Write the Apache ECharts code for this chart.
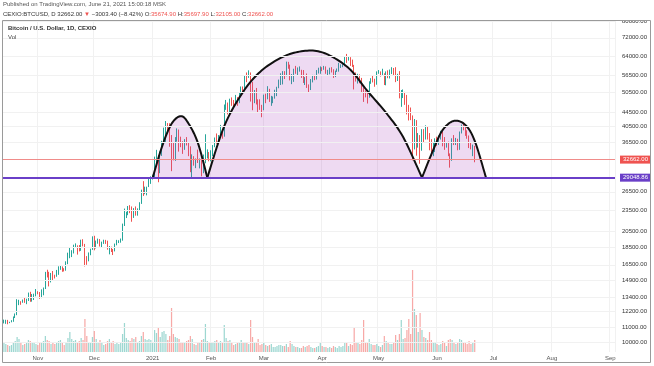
<!DOCTYPE html>
<html><head><meta charset="utf-8">
<script src="https://cdn.jsdelivr.net/npm/echarts@6/dist/echarts.min.js"></script>
<style>html,body{margin:0;padding:0;background:#fff}#c{width:654px;height:366px}</style>
</head><body><div id="c"></div>
<script>
// ---- DATA ----
const startDate = '2020-10-14';
const endDate = '2021-09-03';
// rows: [open, close, low, high]
const oct20 = [[11420,11430,11280,11560],[11430,11500,11250,11550],[11500,11320,11220,11540],[11320,11370,11300,11400],[11370,11500,11360,11520],[11500,11750,11400,11800],[11750,11920,11680,12030],[11920,12820,11900,13200],[12820,12980,12700,13150],[12980,12930,12730,13030],[12930,13120,12900,13170],[13120,13040,12890,13350],[13040,13070,12780,13240],[13070,13650,13050,13780],[13650,13280,12980,13850],[13280,13460,12990,13650],[13460,13560,13130,13680],[13560,13800,13450,14100]];
const nov20 = [[13800,13760,13630,13900],[13760,13560,13230,13830],[13560,14030,13290,14070],[14030,14150,13540,14240],[14150,15590,14100,15760],[15590,15580,15200,15980],[15580,14830,14340,15770],[14830,15480,14720,15650],[15480,15330,14860,15850],[15330,15300,15100,15470],[15300,15700,15270,15960],[15700,16280,15460,16340],[16280,16320,15970,16480],[16320,16070,15770,16330],[16070,15970,15800,16140],[15970,16730,15880,16880],[16730,17660,16570,17850],[17660,17800,17220,18480],[17800,17820,17350,18140],[17820,18680,17760,18800],[18680,18690,18410,18960],[18690,18420,17630,18720],[18420,18370,18000,18760],[18370,19160,18070,19420],[19160,18720,18600,19480],[18720,17150,16330,18900],[17150,17140,16500,17460],[17140,17720,16880,17880],[17720,18180,17560,18320],[18180,19700,18180,19850]];
const dec20 = [[19700,18790,18130,19920],[18790,19220,18350,19310],[19220,19450,18920,19560],[19450,18700,18580,19500],[18700,19150,18520,19180],[19150,19360,18900,19420],[19360,19170,18900,19400],[19170,18330,18200,19300],[18330,18550,17660,18640],[18550,18250,17930,18560],[18250,18040,17580,18280],[18040,18800,18000,18940],[18800,19170,18730,19400],[19170,19270,19000,19350],[19270,19440,19050,19570],[19440,21380,19300,21560],[21380,22800,21230,23770],[22800,23140,22350,23280],[23140,23870,22770,24170],[23870,23480,23070,24300],[23480,22750,21820,24100],[22750,23820,22370,23840],[23820,23250,22700,24100],[23250,23720,22700,23800],[23720,24710,23450,24770],[24710,26450,24500,26870],[26450,26250,25800,28400],[26250,27040,26100,27400],[27040,27370,25900,27400],[27370,28880,27330,28990],[28880,28950,27900,29300]];
const jan21 = [[28950,29370,28700,29600],[29370,32130,29030,33300],[32130,32780,31950,34800],[32780,31970,28200,33600],[31970,33990,29900,34400],[33990,36820,33450,36900],[36820,39370,36340,40200],[39370,40670,36600,41950],[40670,40240,38750,41400],[40240,38240,35500,41350],[38240,35540,30300,38300],[35540,34000,32500,36600],[34000,37390,32400,37800],[37390,39150,36700,40000],[39150,36820,34400,39700],[36820,36070,35400,37900],[36070,35830,33900,36800],[35830,36630,34800,37300],[36630,35890,35800,37800],[35890,35470,33400,36400],[35470,30850,30100,35600],[30850,32940,28900,33800],[32940,32080,31400,33400],[32080,32260,30900,32900],[32260,32250,31950,34850],[32250,32470,30850,32900],[32470,30380,29300,32550],[30380,33400,29900,33750],[33400,34260,31900,38500],[34260,34260,32900,34900],[34260,33110,32300,34300]];
const feb21 = [[33110,33520,32300,34700],[33520,35510,33420,35900],[35510,37670,35400,37700],[37670,36930,36200,38700],[36930,38290,36600,38300],[38290,39260,38100,40900],[39260,38880,37400,39700],[38880,46370,37900,46700],[46370,46480,45100,48100],[46480,44840,43800,47300],[44840,47970,43800,48500],[47970,47400,46300,48900],[47400,47150,46100,48100],[47150,48580,47100,49700],[48580,47910,46300,49000],[47910,49130,47100,50600],[49130,52120,48900,52500],[52120,51600,50900,52500],[51600,55900,50900,56300],[55900,55880,54000,57500],[55880,57410,55500,58300],[57410,54090,47600,57500],[54090,48890,45000,54100],[48890,49680,47100,51300],[49680,47090,46700,52000],[47090,46340,44200,48300],[46340,46190,45100,48300],[46190,45140,43000,46600]];
const mar21 = [[45140,49630,45000,49800],[49630,48380,47100,50100],[48380,50540,48300,52600],[50540,48370,47500,51700],[48370,48750,46300,49400],[48750,48880,47100,49200],[48880,50970,48500,51400],[50970,52380,49300,52400],[52380,54880,51900,54900],[54880,55850,53000,57200],[55850,57770,53200,58000],[57770,57220,55100,58000],[57220,61190,56100,61700],[61190,59000,58900,61600],[59000,55600,54600,60500],[55600,56900,53300,56900],[56900,58910,54100,58900],[58910,57650,57000,60000],[57650,58030,56400,59400],[58030,58100,57800,59800],[58100,57350,55500,58500],[57350,54100,53700,58400],[54100,54340,53000,55800],[54340,52300,52000,57100],[52300,51290,50400,53200],[51290,55030,51300,55100],[55030,55860,53900,56600],[55860,55780,54700,56600],[55780,57630,54900,58400],[57630,58730,57100,59300],[58730,58790,57000,59800]];
const apr21 = [[58790,58730,58000,59500],[58730,58980,58500,60000],[58980,57060,57000,59800],[57060,58200,56500,58500],[58200,59130,56800,59300],[59130,57990,57500,59500],[57990,56000,55500,58700],[56000,58080,55800,58200],[58080,58090,57700,59000],[58090,59770,57800,61200],[59770,59790,59200,60600],[59790,59980,59500,61300],[59980,63500,59900,63800],[63500,62960,61200,64850],[62960,63250,62100,63800],[63250,61450,60000,63500],[61450,60060,59600,62500],[60060,56220,51500,60400],[56220,55720,54200,57500],[55720,56470,53500,57000],[56470,53900,53600,56800],[53900,51760,50500,55500],[51760,51090,47500,52100],[51090,50050,48900,51200],[50050,49000,47000,50500],[49000,54020,48800,54300],[54020,55030,53400,55400],[55030,54820,53900,56400],[54820,53560,52400,55200],[53560,57750,53100,57900]];
const may21 = [[57750,57830,57000,58400],[57830,56630,56000,57900],[56630,57200,56500,58900],[57200,53250,53000,57200],[53250,57420,52900,57900],[57420,56420,55400,58300],[56420,57380,55300,58600],[57380,58930,56900,59500],[58930,58280,56300,59200],[58280,55860,54000,59500],[55860,56700,54400,57000],[56700,49150,48600,58000],[49150,49720,46000,51300],[49720,49880,48700,51500],[49880,46760,46600,50700],[46760,46430,43800,49700],[46430,43540,42100,46600],[43540,42910,42200,45800],[42910,36830,32500,43500],[36830,40620,34900,42500],[40620,37300,33500,42200],[37300,37540,35300,38800],[37540,34700,31800,38300],[34700,38730,34600,39800],[38730,38390,36500,39800],[38390,39300,37200,40800],[39300,38440,37200,40400],[38440,35690,34700,38800],[35690,34600,33400,37300],[34600,35680,33400,36400],[35680,37340,34300,37500]];
const jun21 = [[37340,36690,35700,37900],[36690,37580,35900,38200],[37580,39190,37200,39400],[39190,36870,35600,39200],[36870,35520,34800,37800],[35520,35800,35300,36400],[35800,33560,33400,36700],[33560,33400,31000,34000],[33400,37390,32400,37500],[37390,36700,35900,38300],[36700,37330,35900,37600],[37330,35550,34700,37400],[35550,39020,34800,39200],[39020,40520,38700,41000],[40520,40150,39500,41300],[40150,38350,38100,40500],[38350,38090,37400,39500],[38090,35820,35200,38200],[35820,35490,34900,36400],[35490,35665,33400,36000],[35674.9,32662,32105,35697.9]];

const volOct20 = [900,800,700,600,700,1000,1100,1500,1300,900,700,800,900,1200,1100,1000,900,800];
const volNov20 = [700,900,1000,1100,1600,1200,1100,800,1000,800,900,1100,1200,900,700,1000,1400,2000,1300,1100,1200,1000,1100,1400,1200,3300,1600,1000,900,1500];
const volDec20 = [2100,1300,1000,1200,900,700,800,1100,1300,1000,1100,800,900,800,900,1800,2900,1400,1200,1100,1400,1300,1500,1000,1100,1600,2000,1300,1200,1300,1200];
const volJan21 = [1000,2200,1900,2400,1500,2000,2100,1800,1200,1600,4400,1800,1500,1400,1300,1000,900,1000,1100,1200,1600,1300,800,700,900,1000,1200,1300,2800,1100,900];
const volFeb21 = [900,1000,1100,1200,1000,1100,1000,2700,1400,1100,1200,1000,700,800,900,1000,1200,900,1000,900,800,3200,1500,1000,900,1300,700,800];
const volMar21 = [900,700,600,700,800,500,500,600,700,700,600,600,800,500,1100,800,600,500,500,400,400,600,500,600,700,500,400,400,500,600,1000];
const volApr21 = [600,500,500,400,500,400,600,500,400,600,500,600,1000,900,600,800,700,2500,900,1000,800,1200,3200,900,900,1300,800,700,700,800];
const volMay21 = [600,500,700,1600,1100,900,800,800,900,1700,1200,1800,3200,1300,1400,2200,3300,1800,8200,4300,3700,2000,3900,2200,1500,1400,1200,2000,1200,900,1000];
const volJun21 = [800,700,800,1100,900,600,1200,1300,1200,900,800,1000,1300,1200,900,1000,800,1100,800,900,1200];

const priceTicks = [10000,11000,12200,13400,14900,16500,18500,20500,23500,26500,36500,40500,44500,50500,56500,64000,72000,80000];
const monthTicks = ['2020-11-01','2020-12-01','2021-01-01','2021-02-01','2021-03-01','2021-04-01','2021-05-01','2021-06-01','2021-07-01','2021-08-01','2021-09-01'];
const monthNames = ['Nov','Dec','2021','Feb','Mar','Apr','May','Jun','Jul','Aug','Sep'];

const supportLevel = 29048.86;
const lastClose = 32662.00;

const arc1Dates = ['2021-01-01','2021-01-06','2021-01-11','2021-01-16','2021-01-20','2021-01-25','2021-01-30'];
const arc1Prices = [29048.86,35600,41200,43300,41300,36400,29048.86];
const arc2Dates = ['2021-01-30','2021-02-08','2021-02-18','2021-02-27','2021-03-09','2021-03-18','2021-03-28','2021-04-06','2021-04-16','2021-04-25','2021-05-05','2021-05-14','2021-05-24'];
const arc2Prices = [29048.86,40600,50700,57700,62800,65500,66200,63800,58500,51000,44200,37800,29048.86];
const arc3Dates = ['2021-05-24','2021-05-30','2021-06-04','2021-06-10','2021-06-16','2021-06-21','2021-06-27'];
const arc3Prices = [29048.86,34800,39600,42000,40900,36900,29048.86];

// ---- BUILD ----
function ymd(d){return d.toISOString().slice(0,10);}
const axisDates = [];
for (let d = new Date(startDate+'T00:00:00Z'); ymd(d) <= endDate; d.setUTCDate(d.getUTCDate()+1)) axisDates.push(ymd(d));
const candles = [].concat(oct20,nov20,dec20,jan21,feb21,mar21,apr21,may21,jun21);
const volumes = [].concat(volOct20,volNov20,volDec20,volJan21,volFeb21,volMar21,volApr21,volMay21,volJun21);
const UP = '#26a69a', DOWN = '#ef5350';
const volData = volumes.map((v,i)=>({value:v,itemStyle:{color: candles[i][1] >= candles[i][0] ? 'rgba(38,166,154,0.45)' : 'rgba(239,83,80,0.5)'}}));
const arcs = [[arc1Dates,arc1Prices],[arc2Dates,arc2Prices],[arc3Dates,arc3Prices]];
const monthSet = {}; monthTicks.forEach((m,i)=>monthSet[m]=monthNames[i]);
const isMonth = (idx, val) => monthSet[axisDates[idx]] !== undefined;

function catmull(pts){
  const out=[]; const n=pts.length;
  for(let i=0;i<n-1;i++){
    const p0=pts[Math.max(i-1,0)],p1=pts[i],p2=pts[i+1],p3=pts[Math.min(i+2,n-1)];
    for(let s=0;s<10;s++){const t=s/10,t2=t*t,t3=t2*t;
      out.push([0,1].map(k=>0.5*(2*p1[k]+(-p0[k]+p2[k])*t+(2*p0[k]-5*p1[k]+4*p2[k]-p3[k])*t2+(-p0[k]+3*p1[k]-3*p2[k]+p3[k])*t3)));}
  }
  out.push(pts[n-1]); return out;
}

const chart = echarts.init(document.getElementById('c'), null, {renderer:'canvas'});
const FONT = 'Liberation Sans';
chart.setOption({
  animation:false,
  textStyle:{fontFamily:FONT},
  grid:{left:3,right:39,top:21,bottom:14},
  xAxis:{type:'category',data:axisDates,boundaryGap:true,
    axisLine:{show:false},axisTick:{show:false},
    axisLabel:{interval:isMonth,formatter:v=>monthSet[v]||'',fontSize:6,color:'#555',margin:3,fontFamily:FONT},
    splitLine:{show:true,interval:isMonth,lineStyle:{color:'#f1f1f1',width:1}}},
  yAxis:[
    {type:'log',logBase:10,min:9370,max:80300,position:'right',axisLabel:{show:false},axisLine:{show:false},axisTick:{show:false},splitLine:{show:false}},
    {type:'value',min:0,max:33100,show:false,splitLine:{show:false}}
  ],
  series:[
    {type:'line',data:[],yAxisIndex:0,z:1,silent:true,
      markLine:{symbol:'none',silent:true,animation:false,
        lineStyle:{color:'#f1f1f1',width:1,type:'solid'},
        label:{show:true,position:'end',distance:7,fontSize:6,color:'#333',fontFamily:FONT,formatter:p=>p.value.toFixed(2)},
        data:priceTicks.map(v=>({yAxis:v}))}},
    {type:'bar',data:volData,yAxisIndex:1,barWidth:'65%',z:2,silent:true},
    {type:'candlestick',data:candles,yAxisIndex:0,barWidth:'65%',z:3,
      itemStyle:{color:UP,color0:DOWN,borderColor:UP,borderColor0:DOWN,borderWidth:1}},
    {type:'custom',z:4,silent:true,yAxisIndex:0,
      data:arcs.map((a,i)=>[axisDates.indexOf(a[0][0]),a[1][0],i]),
      encode:{x:0,y:1},
      renderItem:(params,api)=>{
        const a=arcs[params.dataIndex];
        const pts=a[0].map((d,k)=>api.coord([axisDates.indexOf(d),a[1][k]]));
        const dense=catmull(pts);
        return {type:'group',children:[
          {type:'polygon',shape:{points:dense},style:{fill:'rgba(171,71,188,0.2)',stroke:null}},
          {type:'polyline',shape:{points:dense},style:{stroke:'#111',lineWidth:2,fill:null,lineJoin:'round'}}
        ]};
      }},
    {type:'line',data:[],yAxisIndex:0,z:5,silent:true,
      markLine:{symbol:'none',silent:true,animation:false,data:[
        {yAxis:lastClose,lineStyle:{color:'#f08c8a',width:1,type:'solid'},
          label:{show:true,position:'end',distance:5,formatter:lastClose.toFixed(2),fontSize:6,color:'#fff',backgroundColor:'#ef5350',padding:[1,3,1,3],fontFamily:FONT}},
        {yAxis:supportLevel,lineStyle:{color:'#6a3fc8',width:2,type:'solid'},
          label:{show:true,position:'end',distance:5,formatter:supportLevel.toFixed(2),fontSize:6,color:'#fff',backgroundColor:'#6a3fc8',padding:[1,3,1,3],fontFamily:FONT}}
      ]}}
  ],
  graphic:[
    {type:'rect',z:100,shape:{x:560,y:0,width:94,height:20.5},style:{fill:'#fff'}},
    {type:'rect',z:101,shape:{x:2.5,y:20.5,width:648,height:342},style:{fill:null,stroke:'#9a9a9a',lineWidth:1}},
    {type:'text',z:102,left:3,top:1,style:{text:'Published on TradingView.com, June 21, 2021 15:00:18 MSK',fontSize:6,fill:'#555',fontFamily:FONT}},
    {type:'text',z:102,left:3,top:11,style:{
      text:'{d|CEXIO:BTCUSD, D 32662.00 }{r|▼}{d| −3003.40 (−8.42%) O:}{r|35674.90}{d| H:}{r|35697.90}{d| L:}{r|32105.00}{d| C:}{r|32662.00}',
      rich:{d:{fontSize:6,fill:'#333',fontFamily:FONT},r:{fontSize:6,fill:'#ef5350',fontFamily:FONT}}}},
    {type:'text',z:102,left:8,top:25,style:{text:'Bitcoin / U.S. Dollar, 1D, CEXIO',fontSize:6,fontWeight:'bold',fill:'#333',fontFamily:FONT}},
    {type:'text',z:102,left:8,top:34,style:{text:'Vol',fontSize:6,fill:'#444',fontFamily:FONT}}
  ]
});
</script></body></html>
